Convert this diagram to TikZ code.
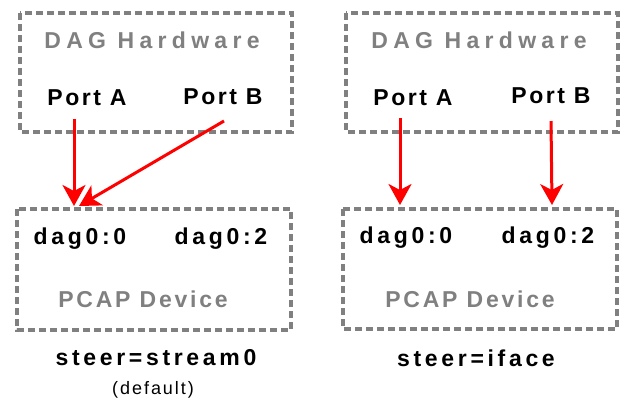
\documentclass[tikz,border=0pt]{standalone}
\usepackage{fontspec}
\setmainfont{Liberation Sans}
\newfontfamily\labelfont[LetterSpace=16]{Liberation Sans}
\newfontfamily\portfont[LetterSpace=11]{Liberation Sans}
\newfontfamily\devfont[LetterSpace=12]{Liberation Sans}
\newfontfamily\titlefont[LetterSpace=23]{Liberation Sans}
\usetikzlibrary{arrows.meta}
\tikzset{
	dashbox/.style={draw=black!50, line width=3.2pt, dash pattern=on 7pt off 4pt},
	boxtitle/.style={font=\titlefont\fontsize{23}{27}\selectfont\bfseries, text=black!50, inner sep=0pt},
	devtitle/.style={font=\devfont\fontsize{23}{27}\selectfont\bfseries, text=black!50, inner sep=0pt},
	portlabel/.style={font=\portfont\fontsize{23}{27}\selectfont\bfseries, inner sep=0pt},
	devlabel/.style={font=\labelfont\fontsize{23}{27}\selectfont\bfseries, inner sep=0pt},
	flow/.style={draw=red, line width=3pt, -{Stealth[length=21pt,width=23pt,inset=6pt]}},
}

\begin{document}
\begin{tikzpicture}[x=1pt, y=-1pt]
			%%%%% START %%%%%
			\useasboundingbox (0, 0) rectangle (620, 400);
			
			% steer=stream0
			\draw[dashbox] (20, 13) rectangle (292, 132);
			\node[boxtitle] (hwL) at (152, 40) {DAG Hardware};
			\node[portlabel] (portAl) at (87, 98) {Port A};
			\node[portlabel] (portBl) at (223, 97) {Port B};
			
			\draw[dashbox] (17, 209) rectangle (291, 330);
			\node[devlabel] (dagAl) at (80, 239) {dag0:0};
			\node[devlabel] (dagBl) at (221, 239) {dag0:2};
			\node[devtitle] (pcapL) at (143, 299) {PCAP Device};
			\node[devlabel] (steerL) at (156, 358) {steer=stream0};
			\node[font=\portfont\fontsize{18}{21}\selectfont, inner sep=0pt] (dflt) at (153, 390) {(default)};
			
			\coordinate (srcAl) at (74, 119);
			\coordinate (srcBl) at (224, 121);
			\coordinate (tipl) at (79, 206);
			\draw[flow] (srcAl) -- (srcAl |- tipl);
			\draw[flow] (srcBl) -- (tipl);
			
			% steer=iface
			\draw[dashbox] (346, 13) rectangle (618, 132);
			\node[boxtitle] (hwR) at (479, 40) {DAG Hardware};
			\node[portlabel] (portAr) at (413, 98) {Port A};
			\node[portlabel] (portBr) at (551, 96) {Port B};
			
			\draw[dashbox] (343, 209) rectangle (617, 329);
			\node[devlabel] (dagAr) at (406, 238) {dag0:0};
			\node[devlabel] (dagBr) at (548, 238) {dag0:2};
			\node[devtitle] (pcapR) at (470, 299) {PCAP Device};
			\node[devlabel] (steerR) at (476, 358) {steer=iface};
			
			\coordinate (srcAr) at (400, 118);
			\coordinate (srcBr) at (551, 121);
			\coordinate (tipAr) at (400, 205);
			\coordinate (tipBr) at (552, 205);
			\draw[flow] (srcAr) -- (tipAr);
			\draw[flow] (srcBr) -- (tipBr);
			
			%%%%% END %%%%%
		\end{tikzpicture}
\end{document}
